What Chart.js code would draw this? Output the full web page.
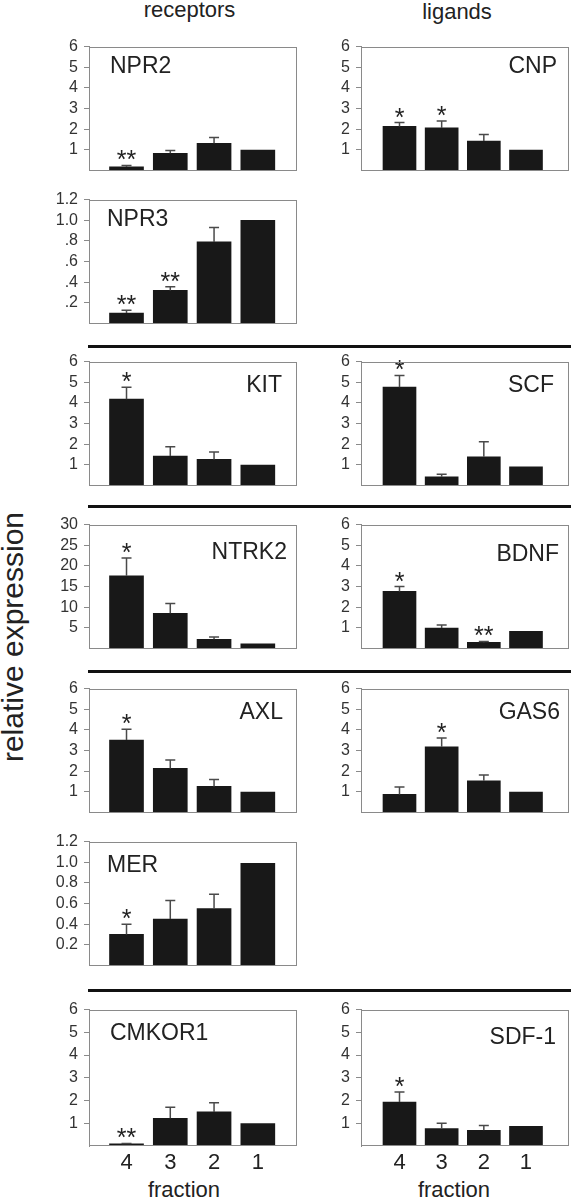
<!DOCTYPE html>
<html>
<head>
<meta charset="utf-8">
<script src="https://cdn.jsdelivr.net/npm/chart.js@4"></script>
<style>
  body { margin: 0; width: 572px; height: 1199px; overflow: hidden; background: #fff; position: relative;
         font-family: "Liberation Sans", Arial, sans-serif; color: #222; }
  canvas { position: absolute; }
  .hdr { position: absolute; font-size: 22px; line-height: 22px; text-align: center; }
  .sep { position: absolute; left: 88px; width: 483px; height: 3px; background: #111; }
  .ytitle { position: absolute; left: 13px; top: 637px; font-size: 30px; line-height: 1; white-space: nowrap;
            transform: translate(-50%, -50%) rotate(-90deg); }
  .frac { position: absolute; font-size: 22px; line-height: 22px; top: 1179px; width: 120px; text-align: center; }
</style>
</head>
<body>
<div class="hdr" style="left:0;width:379px;top:-1px">receptors</div>
<div class="hdr" style="left:357px;width:200px;top:1px">ligands</div>
<div class="ytitle">relative expression</div>
<div class="sep" style="top:345px"></div>
<div class="sep" style="top:505px"></div>
<div class="sep" style="top:670px"></div>
<div class="sep" style="top:989px"></div>
<div class="frac" style="left:124px">fraction</div>
<div class="frac" style="left:394px">fraction</div>

<script>
// fractions, left to right on every panel
const fractionLabels = ['4', '3', '2', '1'];
const fractionPos = [0, 1, 2, 3];

// y tick sets
const ticksSix = [1, 2, 3, 4, 5, 6];
const ticksSixLabels = ['1', '2', '3', '4', '5', '6'];
const ticksThirty = [5, 10, 15, 20, 25, 30];
const ticksThirtyLabels = ['5', '10', '15', '20', '25', '30'];
const ticksOneTwo = [0.2, 0.4, 0.6, 0.8, 1.0, 1.2];
const npr3TickLabels = ['.2', '.4', '.6', '.8', '1.0', '1.2'];
const merTickLabels = ['0.2', '0.4', '0.6', '0.8', '1.0', '1.2'];

// receptors (mean, s.e.m. above the bar, significance)
const npr2Mean = [0.17, 0.83, 1.31, 0.98];
const npr2Sem = [0.07, 0.14, 0.29, 0];
const npr2Stars = ['**', '', '', ''];

const npr3Mean = [0.10, 0.32, 0.79, 1.0];
const npr3Sem = [0.027, 0.036, 0.14, 0];
const npr3Stars = ['**', '**', '', ''];

const kitMean = [4.18, 1.42, 1.26, 0.99];
const kitSem = [0.58, 0.45, 0.36, 0];
const kitStars = ['*', '', '', ''];

const ntrk2Mean = [17.6, 8.5, 2.2, 1.1];
const ntrk2Sem = [4.3, 2.4, 0.56, 0];
const ntrk2Stars = ['*', '', '', ''];

const axlMean = [3.51, 2.13, 1.26, 0.99];
const axlSem = [0.52, 0.41, 0.33, 0];
const axlStars = ['*', '', '', ''];

const merMean = [0.30, 0.45, 0.55, 0.99];
const merSem = [0.10, 0.18, 0.14, 0];
const merStars = ['*', '', '', ''];

const cmkor1Mean = [0.09, 1.22, 1.50, 0.99];
const cmkor1Sem = [0.02, 0.49, 0.40, 0];
const cmkor1Stars = ['**', '', '', ''];

// ligands
const cnpMean = [2.13, 2.06, 1.42, 0.99];
const cnpSem = [0.19, 0.33, 0.32, 0];
const cnpStars = ['*', '*', '', ''];

const scfMean = [4.76, 0.42, 1.39, 0.90];
const scfSem = [0.57, 0.12, 0.72, 0];
const scfStars = ['*', '', '', ''];

const bdnfMean = [2.76, 0.99, 0.29, 0.83];
const bdnfSem = [0.24, 0.15, 0.05, 0];
const bdnfStars = ['*', '', '**', ''];

const gas6Mean = [0.87, 3.18, 1.53, 0.99];
const gas6Sem = [0.36, 0.42, 0.28, 0];
const gas6Stars = ['', '*', '', ''];

const sdf1Mean = [1.93, 0.77, 0.69, 0.86];
const sdf1Sem = [0.44, 0.23, 0.21, 0];
const sdf1Stars = ['*', '', '', ''];

// panel frames: left column 89..297, right column 361..569
const LEFT = { x: 89, xMin: -0.857, xMax: 3.895, barW: 34 };
const RIGHT = { x: 361, xMin: -0.913, xMax: 4.02, barW: 33 };

const panels = [
  { name: 'NPR2', col: LEFT, top: 43, mean: npr2Mean, sem: npr2Sem, stars: npr2Stars, yMax: 6, ticks: ticksSix, tickLabels: ticksSixLabels, align: 'left', dx: 21, dy: 20 },
  { name: 'NPR3', col: LEFT, top: 196, mean: npr3Mean, sem: npr3Sem, stars: npr3Stars, yMax: 1.2, ticks: ticksOneTwo, tickLabels: npr3TickLabels, align: 'left', dx: 18, dy: 20 },
  { name: 'KIT', col: LEFT, top: 358, mean: kitMean, sem: kitSem, stars: kitStars, yMax: 6, ticks: ticksSix, tickLabels: ticksSixLabels, align: 'right', dx: 15, dy: 24 },
  { name: 'NTRK2', col: LEFT, top: 521, mean: ntrk2Mean, sem: ntrk2Sem, stars: ntrk2Stars, yMax: 30, ticks: ticksThirty, tickLabels: ticksThirtyLabels, align: 'right', dx: 10, dy: 28 },
  { name: 'AXL', col: LEFT, top: 685, mean: axlMean, sem: axlSem, stars: axlStars, yMax: 6, ticks: ticksSix, tickLabels: ticksSixLabels, align: 'right', dx: 14, dy: 24 },
  { name: 'MER', col: LEFT, top: 838, mean: merMean, sem: merSem, stars: merStars, yMax: 1.2, ticks: ticksOneTwo, tickLabels: merTickLabels, align: 'left', dx: 18, dy: 24 },
  { name: 'CMKOR1', col: LEFT, top: 1006, mean: cmkor1Mean, sem: cmkor1Sem, stars: cmkor1Stars, yMax: 6, ticks: ticksSix, tickLabels: ticksSixLabels, align: 'left', dx: 21, dy: 24, bottom: true },
  { name: 'CNP', col: RIGHT, top: 43, mean: cnpMean, sem: cnpSem, stars: cnpStars, yMax: 6, ticks: ticksSix, tickLabels: ticksSixLabels, align: 'right', dx: 12, dy: 20 },
  { name: 'SCF', col: RIGHT, top: 358, mean: scfMean, sem: scfSem, stars: scfStars, yMax: 6, ticks: ticksSix, tickLabels: ticksSixLabels, align: 'right', dx: 15, dy: 24 },
  { name: 'BDNF', col: RIGHT, top: 521, mean: bdnfMean, sem: bdnfSem, stars: bdnfStars, yMax: 6, ticks: ticksSix, tickLabels: ticksSixLabels, align: 'right', dx: 10, dy: 30 },
  { name: 'GAS6', col: RIGHT, top: 685, mean: gas6Mean, sem: gas6Sem, stars: gas6Stars, yMax: 6, ticks: ticksSix, tickLabels: ticksSixLabels, align: 'right', dx: 9, dy: 24 },
  { name: 'SDF-1', col: RIGHT, top: 1006, mean: sdf1Mean, sem: sdf1Sem, stars: sdf1Stars, yMax: 6, ticks: ticksSix, tickLabels: ticksSixLabels, align: 'right', dx: 13, dy: 28, bottom: true },
];

const FONT = '"Liberation Sans", Arial, sans-serif';
const PAD_T = 12, AXIS_W = 60, PLOT_W = 208, PLOT_H = 140, X_H = 56;

// draws frame, error bars, stars and gene name
function panelPlugin(p) {
  return {
    id: 'panel',
    afterDatasetsDraw(chart) {
      const ctx = chart.ctx;
      const ca = chart.chartArea;
      const y = chart.scales.y;
      const bars = chart.getDatasetMeta(0).data;
      ctx.save();

      ctx.strokeStyle = '#4a4a4a';
      ctx.lineWidth = 1.5;
      bars.forEach((bar, i) => {
        if (!p.sem[i]) return;
        const top = y.getPixelForValue(p.mean[i] + p.sem[i]);
        ctx.beginPath();
        ctx.moveTo(bar.x, bar.y);
        ctx.lineTo(bar.x, top);
        ctx.moveTo(bar.x - 5, top);
        ctx.lineTo(bar.x + 5, top);
        ctx.stroke();
      });

      ctx.fillStyle = '#222';
      ctx.font = '25px ' + FONT;
      ctx.textAlign = 'center';
      ctx.textBaseline = 'alphabetic';
      bars.forEach((bar, i) => {
        if (!p.stars[i]) return;
        const top = y.getPixelForValue(p.mean[i] + p.sem[i]);
        ctx.fillText(p.stars[i], bar.x, top + 3);
      });

      ctx.strokeStyle = '#8a8a8a';
      ctx.lineWidth = 1;
      ctx.strokeRect(Math.round(ca.left) + 0.5, Math.round(ca.top) + 0.5, Math.round(ca.width) - 1, Math.round(ca.height) - 1);

      ctx.font = '23px ' + FONT;
      ctx.textAlign = p.align;
      ctx.textBaseline = 'middle';
      ctx.fillText(p.name, p.align === 'left' ? ca.left + p.dx : ca.right - p.dx, ca.top + p.dy);
      ctx.restore();
    }
  };
}

function makePanel(p) {
  const canvas = document.createElement('canvas');
  const w = AXIS_W + PLOT_W + 3;
  const h = PAD_T + PLOT_H + (p.bottom ? X_H + 2 : 3);
  canvas.width = w;
  canvas.height = h;
  canvas.style.left = (p.col.x - AXIS_W) + 'px';
  canvas.style.top = (p.top - PAD_T) + 'px';
  canvas.style.width = w + 'px';
  canvas.style.height = h + 'px';
  document.body.appendChild(canvas);

  new Chart(canvas, {
    type: 'bar',
    data: {
      datasets: [{
        data: fractionPos.map((x, i) => ({ x: x, y: p.mean[i] })),
        backgroundColor: '#181818',
        borderWidth: 0,
        barThickness: p.col.barW,
      }],
    },
    options: {
      animation: false,
      responsive: false,
      devicePixelRatio: 1,
      layout: { padding: { top: PAD_T, right: 3, bottom: p.bottom ? 2 : 3, left: 0 } },
      plugins: { legend: { display: false }, tooltip: { enabled: false } },
      scales: {
        x: {
          type: 'linear',
          offset: false,
          min: p.col.xMin,
          max: p.col.xMax,
          display: !!p.bottom,
          afterBuildTicks: (s) => { s.ticks = fractionPos.map(v => ({ value: v })); },
          ticks: {
            callback: (v, i) => fractionLabels[i],
            font: { size: 22, family: FONT },
            color: '#222',
            padding: 4,
            maxRotation: 0,
            autoSkip: false,
          },
          grid: { display: false, drawTicks: false },
          border: { display: false },
          afterFit: (s) => { if (p.bottom) s.height = X_H; },
        },
        y: {
          min: 0,
          max: p.yMax,
          afterBuildTicks: (s) => { s.ticks = p.ticks.map(v => ({ value: v })); },
          ticks: {
            callback: (v, i) => p.tickLabels[i],
            font: { size: 16, family: FONT },
            color: '#333',
            padding: 6,
            autoSkip: false,
          },
          grid: { drawOnChartArea: false, tickLength: 5, color: '#8a8a8a' },
          border: { color: '#8a8a8a' },
          afterFit: (s) => { s.width = AXIS_W; },
        },
      },
    },
    plugins: [panelPlugin(p)],
  });
}

panels.forEach(makePanel);
</script>
</body>
</html>
